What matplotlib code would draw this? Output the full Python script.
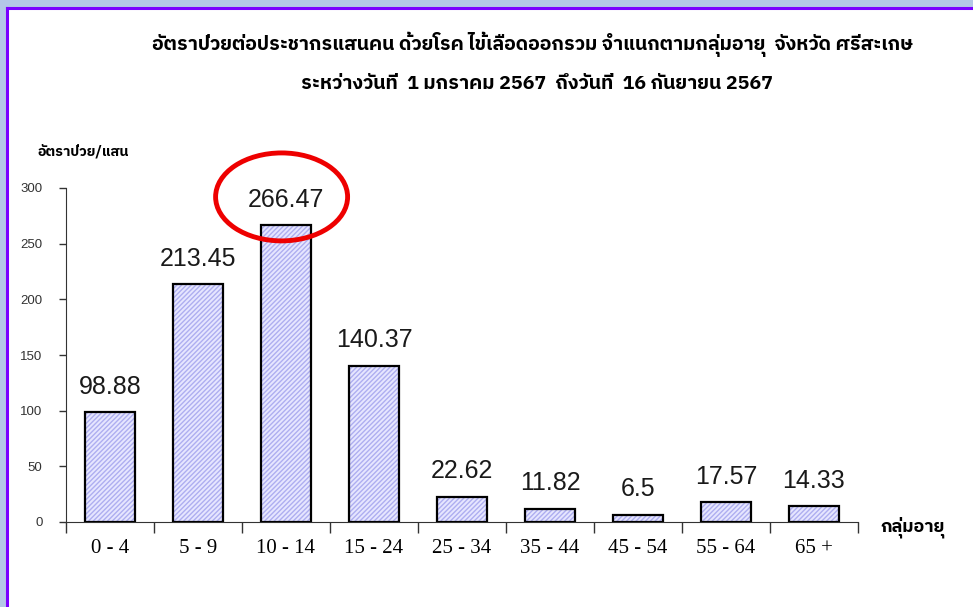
import matplotlib
matplotlib.use("Agg")
import matplotlib.pyplot as plt
from matplotlib import font_manager
from matplotlib.ft2font import FT2Font
from matplotlib.patches import Ellipse, Rectangle

# data
age_groups = ["0 - 4", "5 - 9", "10 - 14", "15 - 24", "25 - 34", "35 - 44", "45 - 54", "55 - 64", "65 +"]
rates = [98.88, 213.45, 266.47, 140.37, 22.62, 11.82, 6.5, 17.57, 14.33]
yticks = [0, 50, 100, 150, 200, 250, 300]

title1 = "อัตราป่วยต่อประชากรแสนคน ด้วยโรค ไข้เลือดออกรวม จำแนกตามกลุ่มอายุ  จังหวัด ศรีสะเกษ"
title2 = "ระหว่างวันที่  1 มกราคม 2567  ถึงวันที่  16 กันยายน 2567"
ylab = "อัตราป่วย/แสน"
xlab = "กลุ่มอายุ"

# look for a proportional font with thai glyphs (no mono)
cands = []
for path in font_manager.findSystemFonts():
    try:
        f = FT2Font(path)
        if 0x0E01 not in f.get_charmap():
            continue
        name = f.family_name
        score = 0
        if "mono" in name.lower() or "mono" in path.lower():
            score -= 10
        if "sans" in name.lower():
            score += 3
        if "thai" in name.lower():
            score += 5
        cands.append((score, path, name))
    except Exception:
        pass
thai_family = ["DejaVu Sans"]
if cands:
    cands.sort(key=lambda c: -c[0])
    best = cands[0][2]
    for sc, p, n in cands:
        if n == best:
            font_manager.fontManager.addfont(p)
    thai_family = [best, "DejaVu Sans"]

fig = plt.figure(figsize=(9.73, 6.07), dpi=100)
fig.patch.set_facecolor("white")

# slide frame
fig.patches.append(Rectangle((0, 1 - 7/607), 1, 7/607, transform=fig.transFigure,
                             facecolor="#b4c7e7", edgecolor="none", zorder=0))
fig.patches.append(Rectangle((0, 0), 6/973, 1, transform=fig.transFigure,
                             facecolor="#b4c7e7", edgecolor="none", zorder=0))
fig.add_artist(plt.Line2D([6.5/973, 1], [1 - 8/607, 1 - 8/607], transform=fig.transFigure,
                          color="#7a00ff", lw=2.2))
fig.add_artist(plt.Line2D([6.5/973, 6.5/973], [0, 1 - 8/607], transform=fig.transFigure,
                          color="#7a00ff", lw=2.2))

ax = fig.add_axes([66/973, (607-522)/607, (858-66)/973, (522-188)/607])
x = list(range(len(rates)))
ax.bar(x, rates, width=0.56, color="#e6e6ff", edgecolor="#aeaef0", hatch="///////", linewidth=0, zorder=2)
ax.bar(x, rates, width=0.56, fill=False, edgecolor="black", linewidth=1.6, zorder=3)

for xi, v in zip(x, rates):
    ax.text(xi, v + 12, f"{v:g}", ha="center", va="bottom", fontsize=18,
            family="Liberation Sans", color="#1a1a1a")

ax.set_xlim(-0.5, len(rates) - 0.5)
ax.set_ylim(0, 300)
ax.set_yticks(yticks)
ax.set_yticklabels([str(t) for t in yticks], fontsize=9.5, family="Liberation Sans", color="#333333")
ax.set_xticks([i - 0.5 for i in range(len(rates) + 1)])
ax.set_xticklabels([])
ax.set_xticks(x, minor=True)
ax.set_xticklabels(age_groups, minor=True, fontsize=15, family="Liberation Serif")
ax.tick_params(axis="x", which="minor", length=0, pad=12)
ax.tick_params(axis="x", which="major", direction="out", length=8, width=1, color="#333333")
ax.tick_params(axis="y", direction="out", length=5, width=1, color="#333333", pad=12)
for s in ["top", "right"]:
    ax.spines[s].set_visible(False)
ax.spines["left"].set_color("#333333")
ax.spines["bottom"].set_color("#333333")
ax.spines["left"].set_bounds(0, 300)

# highlight circle
ax.add_patch(Ellipse((1.95, 292), 1.5, 79, fill=False, edgecolor="#ee0000", linewidth=3.5,
                     clip_on=False, zorder=5))

fig.text(533/973, 1 - 44/607, title1, ha="center", va="center", fontsize=14,
         fontweight="bold", family=thai_family)
fig.text(537/973, 1 - 84/607, title2, ha="center", va="center", fontsize=14,
         fontweight="bold", family=thai_family)
fig.text(38/973, 1 - 151/607, ylab, ha="left", va="center", fontsize=10.3,
         fontweight="bold", family=thai_family)
fig.text(880/973, 1 - 527/607, xlab, ha="left", va="center", fontsize=13,
         fontweight="bold", family=thai_family)

fig.savefig("out.png", dpi=100)
